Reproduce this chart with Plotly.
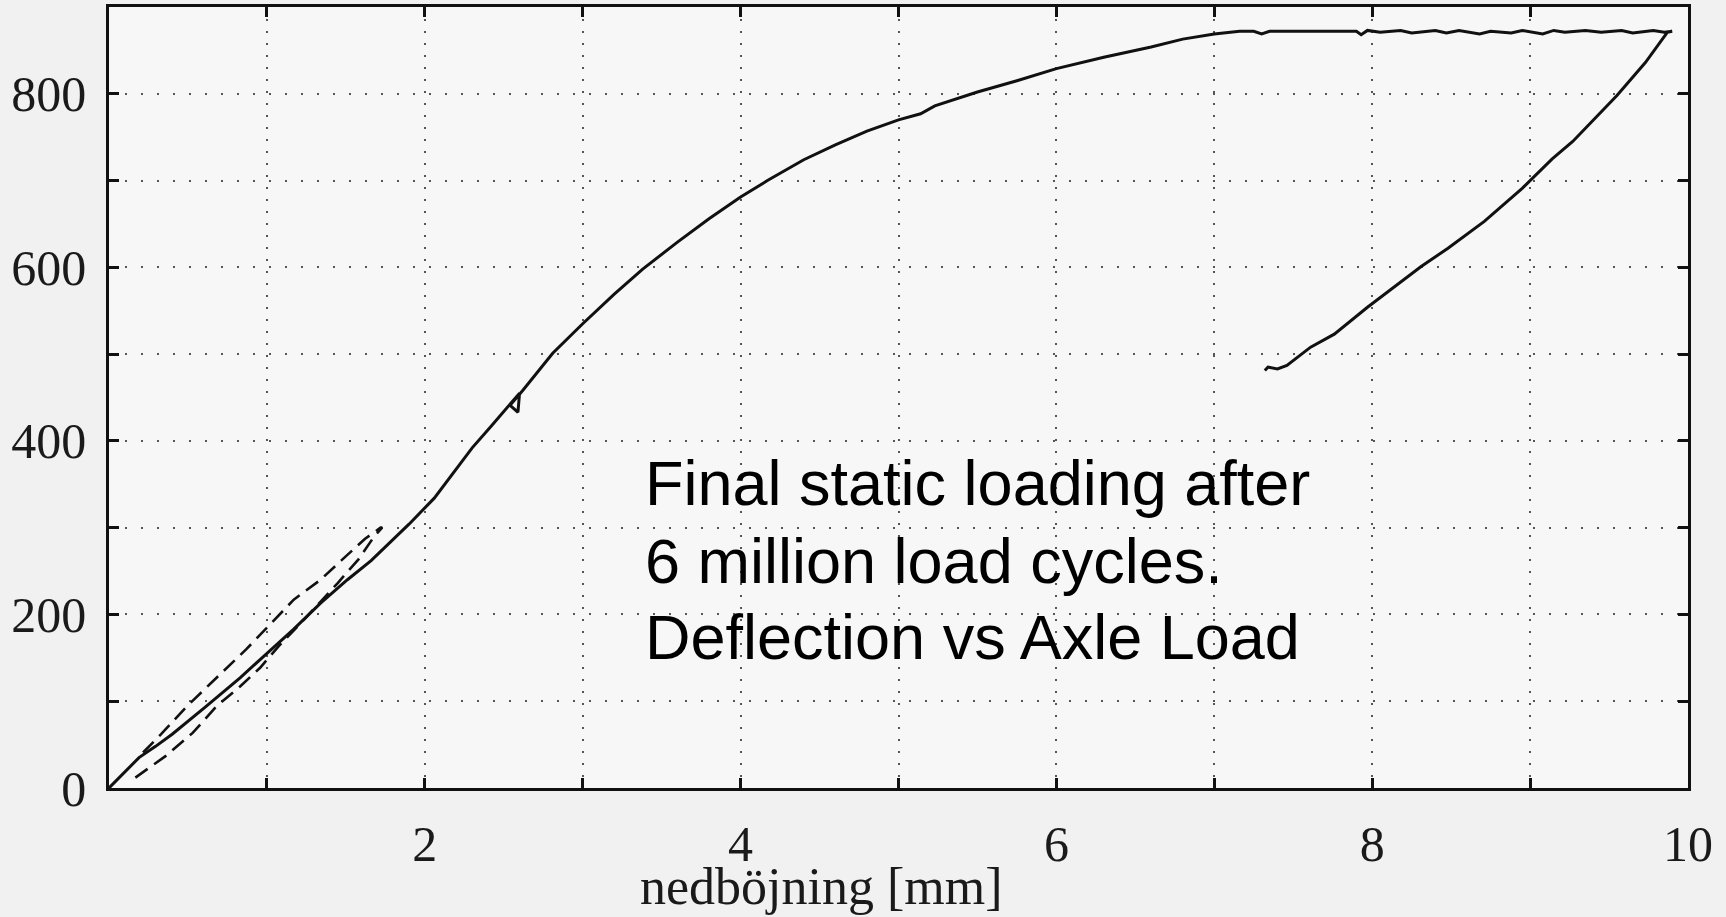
import plotly.graph_objects as go

# ---- data ----
load_x = [0.0, 0.19, 0.295, 0.40, 0.615, 0.83, 0.957, 1.04, 1.17, 1.34, 1.51, 1.66, 1.78, 1.90,
          2.06, 2.30, 2.42, 2.50, 2.60, 2.59, 2.54, 2.62, 2.68, 2.81, 3.00, 3.20, 3.38, 3.60,
          3.80, 4.00, 4.17, 4.40, 4.60, 4.80, 5.00, 5.14, 5.23, 5.50, 5.75, 6.00, 6.30, 6.60,
          6.80, 7.00, 7.16]
load_y = [0, 35, 48, 62, 94, 127, 148, 162, 183, 213, 240, 262, 283, 304,
          334, 392, 417, 434, 455, 433, 441, 458, 472, 501, 535, 569, 598, 629,
          656, 681, 700, 724, 741, 757, 770, 777, 786, 802, 815, 829, 842, 854,
          863, 869, 872]

plateau_x = [7.16, 7.25, 7.30, 7.35, 7.45, 7.90, 7.93, 7.97, 8.05, 8.18, 8.25, 8.40, 8.47,
             8.55, 8.68, 8.75, 8.88, 8.95, 9.08, 9.15, 9.22, 9.35, 9.45, 9.58, 9.65, 9.78,
             9.85, 9.90]
plateau_y = [872, 872, 869, 872, 872, 872, 868, 873, 871, 873, 870, 873, 870,
             873, 869, 872, 870, 873, 869, 873, 871, 873, 871, 873, 870, 873,
             871, 872]

unload_x = [9.90, 9.87, 9.73, 9.55, 9.27, 9.14, 8.95, 8.88, 8.71, 8.48, 8.31, 7.97, 7.76,
            7.61, 7.46, 7.40, 7.34, 7.32]
unload_y = [872, 871, 836, 798, 745, 725, 691, 680, 653, 622, 601, 554, 523,
            508, 487, 483, 485, 481]

# hysteresis loop (dashed): lower branch up, upper branch down
cycle_x = [0.167, 0.36, 0.53, 0.68, 0.83, 0.957, 1.075, 1.235, 1.45, 1.58, 1.68, 1.73,
           1.72, 1.62, 1.47, 1.34, 1.17, 1.01, 0.87, 0.658, 0.487, 0.33, 0.20]
cycle_y = [12, 37, 63.5, 94, 117, 138.5, 163.5, 194, 236.5, 263.5, 290, 300,
           300, 287, 262, 240, 217, 187, 160, 123, 93, 62, 38]

x_ticks = list(range(0, 11))
x_labels = ["", "", "2", "", "4", "", "6", "", "8", "", "10"]
y_ticks = list(range(0, 900, 100))
y_labels = ["0", "", "200", "", "400", "", "600", "", "800"]

note_lines = ["Final static loading after", "6 million load cycles.", "Deflection vs Axle Load"]
note_y = [351.5, 261.5, 173.5]
x_title = "nedböjning [mm]"

# ---- figure ----
fig = go.Figure()
fig.add_trace(go.Scatter(x=load_x + plateau_x + unload_x, y=load_y + plateau_y + unload_y,
                         mode="lines", line=dict(color="#111111", width=3),
                         hoverinfo="skip"))
fig.add_trace(go.Scatter(x=cycle_x, y=cycle_y, mode="lines",
                         line=dict(color="#111111", width=2.6, dash="15px,8px"),
                         hoverinfo="skip"))

for txt, yy in zip(note_lines, note_y):
    fig.add_annotation(x=3.38, y=yy, xref="x", yref="y", text=txt, showarrow=False,
                       xanchor="left", yanchor="middle",
                       font=dict(family="Liberation Sans, Arial", size=63, color="#000000"))

fig.add_annotation(x=0.4515, y=-0.1263, xref="paper", yref="paper", text=x_title,
                   showarrow=False, xanchor="center", yanchor="middle", borderpad=0,
                   font=dict(family="Liberation Serif, Times New Roman", size=52, color="#1a1a1a"))

axis_common = dict(showline=True, linecolor="#111111", linewidth=2.5, mirror="ticks",
                   ticks="inside", ticklen=10, tickwidth=2.5, tickcolor="#111111",
                   showgrid=True, gridcolor="#555555", gridwidth=2, zeroline=False,
                   tickfont=dict(family="Liberation Serif, Times New Roman", size=50,
                                 color="#1a1a1a"))

fig.update_xaxes(range=[0, 10], tickmode="array", tickvals=x_ticks, ticktext=x_labels,
                 griddash="2px,10px", ticklabelstandoff=10, **axis_common)
fig.update_yaxes(range=[0, 900], tickmode="array", tickvals=y_ticks, ticktext=y_labels,
                 griddash="2px,14px", ticklabelstandoff=10, **axis_common)

fig.update_layout(width=1726, height=917, margin=dict(l=109, r=38, t=4, b=129),
                  paper_bgcolor="#f1f1f1", plot_bgcolor="#f7f7f7", showlegend=False)

fig.write_html("out.html", config={"displayModeBar": False})
